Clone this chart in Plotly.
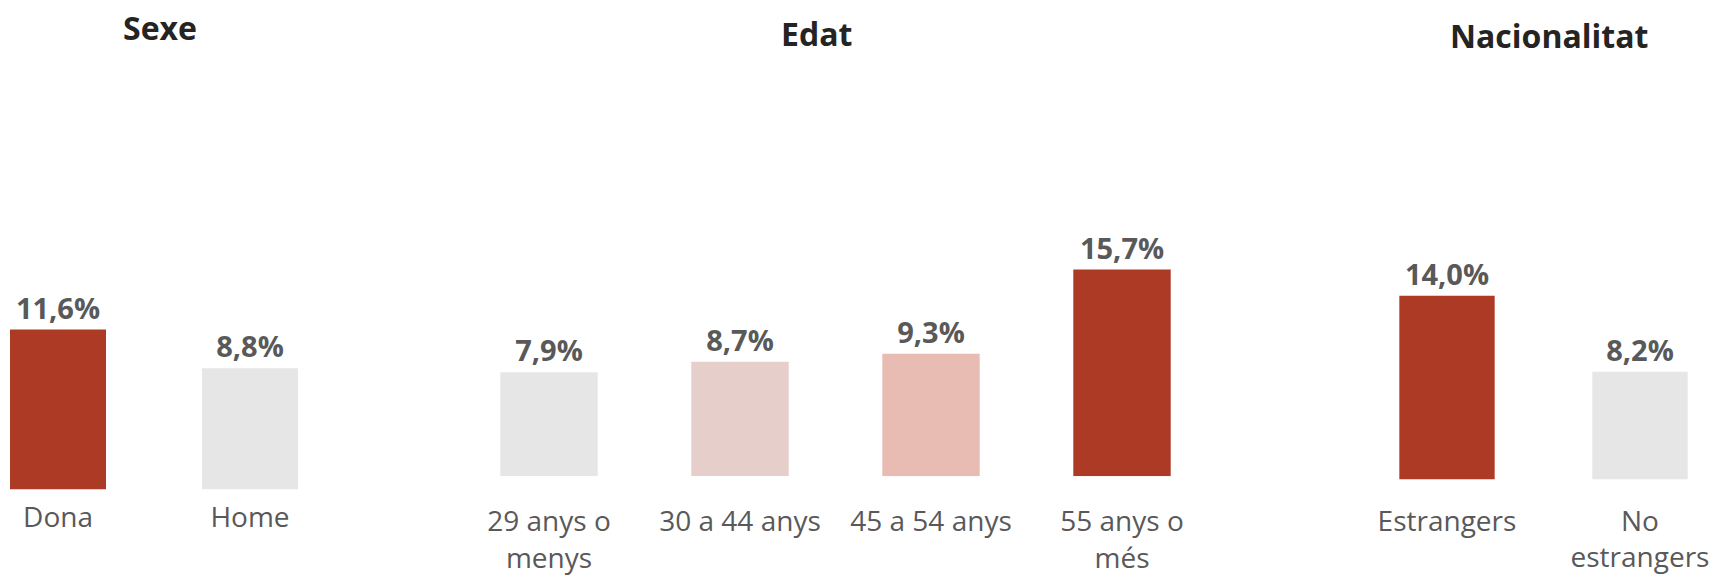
import plotly.graph_objects as go

W, H = 1717, 575

# ---- data ----
sexe_cats = ["Dona", "Home"]
sexe_vals = [11.6, 8.8]
edat_cats = ["29 anys o menys", "30 a 44 anys", "45 a 54 anys", "55 anys o més"]
edat_ticks = ["29 anys o<br>menys", "30 a 44 anys", "45 a 54 anys", "55 anys o<br>més"]
edat_vals = [7.9, 8.7, 9.3, 15.7]
nac_cats = ["Estrangers", "No estrangers"]
nac_ticks = ["Estrangers", "No<br>estrangers"]
nac_vals = [14.0, 8.2]

RED = "#AD3A25"
GREY = "#E6E6E6"
PINK1 = "#E6CFCA"
PINK2 = "#E8BCB3"
sexe_cols = [RED, GREY]
edat_cols = [GREY, PINK1, PINK2, RED]
nac_cols = [RED, GREY]

FONT = "Open Sans, DejaVu Sans, sans-serif"
LABEL_COL = "#595959"

def fmt(v):
    return f"{v:.1f}".replace(".", ",") + "%"

# panel layout specs (pixels)
panels = [
    dict(name="Sexe", cats=sexe_cats, ticks=sexe_cats, vals=sexe_vals, cols=sexe_cols,
         x0=0, x1=340, c0=58, step=192, width=0.50, base=489.5, ppu=13.79,
         tx=160, ty=28, stand=8),
    dict(name="Edat", cats=edat_cats, ticks=edat_ticks, vals=edat_vals, cols=edat_cols,
         x0=420, x1=1240, c0=549, step=191, width=0.51, base=476.3, ppu=13.17,
         tx=816, ty=33, stand=26),
    dict(name="Nacionalitat", cats=nac_cats, ticks=nac_ticks, vals=nac_vals, cols=nac_cols,
         x0=1300, x1=1717, c0=1447, step=193, width=0.494, base=479.6, ppu=13.14,
         tx=1549, ty=36, stand=22),
]

TOP = 100
fig = go.Figure()
layout = dict(
    width=W, height=H,
    margin=dict(l=0, r=0, t=0, b=0),
    paper_bgcolor="white", plot_bgcolor="white",
    showlegend=False,
    font=dict(family=FONT, color=LABEL_COL),
    annotations=[],
)

for i, p in enumerate(panels):
    suf = "" if i == 0 else str(i + 1)
    fig.add_trace(go.Bar(
        x=p["cats"], y=p["vals"],
        marker=dict(color=p["cols"], line=dict(width=0)),
        width=p["width"],
        text=[fmt(v) for v in p["vals"]],
        textposition="outside",
        textfont=dict(family=FONT, size=29, color=LABEL_COL, weight="bold"),
        cliponaxis=False,
        xaxis="x" + suf, yaxis="y" + suf,
        hoverinfo="skip",
    ))
    xr0 = (p["x0"] - p["c0"]) / p["step"]
    xr1 = (p["x1"] - p["c0"]) / p["step"]
    yr1 = (p["base"] - TOP) / p["ppu"]
    layout["xaxis" + suf] = dict(
        domain=[p["x0"] / W, p["x1"] / W],
        anchor="y" + suf,
        type="category",
        categoryorder="array", categoryarray=p["cats"],
        range=[xr0, xr1],
        tickvals=p["cats"], ticktext=p["ticks"],
        tickfont=dict(family=FONT, size=28, color=LABEL_COL),
        ticklabelstandoff=p["stand"],
        showgrid=False, zeroline=False, showline=False, ticks="",
        automargin=False, fixedrange=True,
    )
    layout["yaxis" + suf] = dict(
        domain=[1 - p["base"] / H, 1 - TOP / H],
        anchor="x" + suf,
        range=[0, yr1],
        visible=False, showgrid=False, zeroline=False,
        automargin=False, fixedrange=True,
    )
    layout["annotations"].append(dict(
        text="<b>" + p["name"] + "</b>",
        x=p["tx"] / W, y=1 - p["ty"] / H,
        xref="paper", yref="paper",
        xanchor="center", yanchor="middle",
        showarrow=False,
        font=dict(family=FONT, size=32, color="#252423"),
    ))

fig.update_layout(**layout)
fig.write_html(
    "out.html",
    config={"displayModeBar": False},
    post_script="document.body.style.margin='0';document.body.style.overflow='hidden';",
)
